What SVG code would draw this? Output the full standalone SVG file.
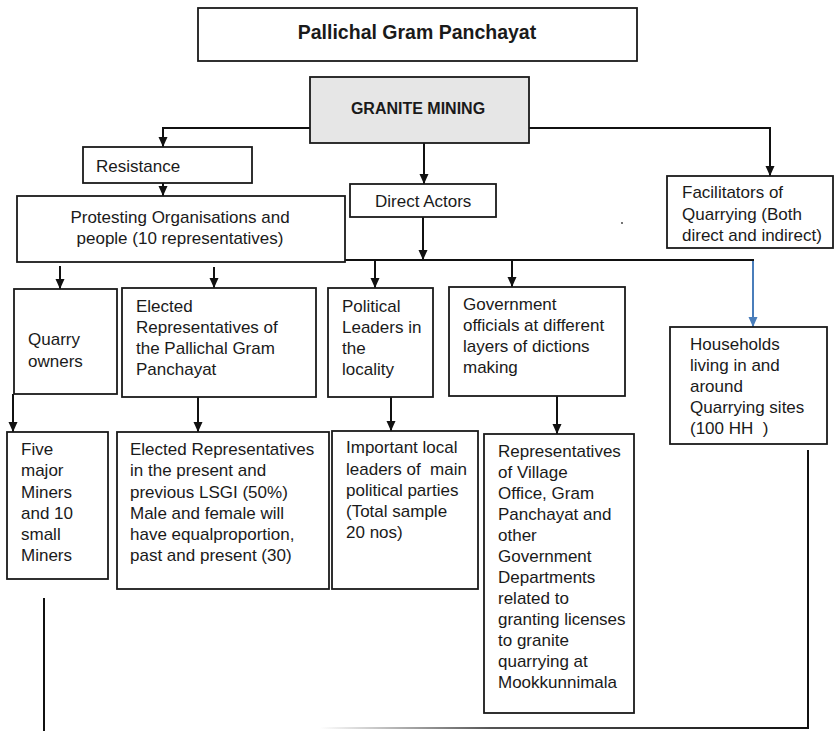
<svg xmlns="http://www.w3.org/2000/svg" width="834" height="731" viewBox="0 0 834 731">
<style>
.box{fill:#fff;stroke:#1a1a1a;stroke-width:1.8}
.grey{fill:#e6e6e6}
text{font-family:"Liberation Sans",Arial,sans-serif;font-size:17px;fill:#1a1a1a;white-space:pre}
.b{font-weight:bold}
.c{text-anchor:middle}
.con{fill:none;stroke:#111;stroke-width:2}
.blue{stroke:#4a7ebb}
</style>
<defs>
<marker id="ah" viewBox="0 0 10 10" refX="10" refY="5" markerWidth="10" markerHeight="10" markerUnits="userSpaceOnUse" orient="auto"><path d="M0,0.5 L10,5 L0,9.5 z" fill="#111"/></marker>
<marker id="ahb" viewBox="0 0 10 10" refX="10" refY="5" markerWidth="10" markerHeight="10" markerUnits="userSpaceOnUse" orient="auto"><path d="M0,0.5 L10,5 L0,9.5 z" fill="#4a7ebb"/></marker>
<linearGradient id="fade" x1="320" y1="0" x2="809" y2="0" gradientUnits="userSpaceOnUse"><stop offset="0" stop-color="#ffffff"/><stop offset="0.35" stop-color="#555"/><stop offset="1" stop-color="#111"/></linearGradient>
</defs>

<g id="connectors">
<polyline class="con" points="310,128 163,128 163,147" marker-end="url(#ah)"/>
<line class="con" x1="163" y1="183" x2="163" y2="196" marker-end="url(#ah)"/>
<line class="con" x1="424" y1="143" x2="424" y2="184" marker-end="url(#ah)"/>
<polyline class="con" points="529,128 770,128 770,176" marker-end="url(#ah)"/>
<line class="con" x1="423" y1="217" x2="423" y2="260" marker-end="url(#ah)"/>
<line class="con" x1="345" y1="260" x2="754" y2="260"/>
<line class="con blue" x1="753" y1="261" x2="753" y2="327" marker-end="url(#ahb)"/>
<line class="con" x1="60" y1="266" x2="60" y2="289" marker-end="url(#ah)"/>
<line class="con" x1="214" y1="267" x2="214" y2="288" marker-end="url(#ah)"/>
<line class="con" x1="375" y1="261" x2="375" y2="288" marker-end="url(#ah)"/>
<line class="con" x1="512" y1="261" x2="512" y2="287" marker-end="url(#ah)"/>
<line class="con" x1="13" y1="394" x2="13" y2="432" marker-end="url(#ah)"/>
<line class="con" x1="198" y1="397" x2="198" y2="432" marker-end="url(#ah)"/>
<line class="con" x1="391" y1="397" x2="391" y2="431" marker-end="url(#ah)"/>
<line class="con" x1="557" y1="396" x2="557" y2="434" marker-end="url(#ah)"/>
<line class="con" x1="44" y1="598" x2="44" y2="731"/>
<line class="con" x1="808" y1="450" x2="808" y2="729"/>
<line x1="320" y1="728" x2="809" y2="728" stroke="url(#fade)" stroke-width="2"/>
<circle cx="622" cy="223" r="0.9" fill="#333"/>
</g>

<g id="pallichal"><rect class="box" x="198" y="8" width="439" height="53"/><text class="b c" x="417" y="39" style="font-size:19.5px">Pallichal Gram Panchayat</text></g>
<g id="granite"><rect class="box grey" x="310" y="77" width="219" height="66"/><text class="b c" x="418" y="114" style="font-size:16px">GRANITE MINING</text></g>
<g id="resistance"><rect class="box" x="83" y="147" width="169" height="36"/><text x="96" y="172">Resistance</text></g>
<g id="protesting"><rect class="box" x="17" y="196" width="328" height="66"/><text class="c" x="180" y="223">Protesting Organisations and</text><text class="c" x="180" y="244">people (10 representatives)</text></g>
<g id="direct"><rect class="box" x="350" y="184" width="146" height="33"/><text x="375" y="207">Direct Actors</text></g>
<g id="facilitators"><rect class="box" x="667" y="176" width="166" height="72"/><text x="682" y="198">Facilitators of</text><text x="682" y="220">Quarrying (Both</text><text x="682" y="241">direct and indirect)</text></g>
<g id="quarry"><rect class="box" x="14" y="289" width="103" height="105"/><text x="28" y="345">Quarry</text><text x="28" y="367">owners</text></g>
<g id="elected"><rect class="box" x="122" y="288" width="194" height="109"/><text x="136" y="312">Elected</text><text x="136" y="333">Representatives of</text><text x="136" y="354">the Pallichal Gram</text><text x="136" y="375">Panchayat</text></g>
<g id="political"><rect class="box" x="328" y="288" width="105" height="109"/><text x="342" y="312">Political</text><text x="342" y="333">Leaders in</text><text x="342" y="354">the</text><text x="342" y="375">locality</text></g>
<g id="govt"><rect class="box" x="449" y="287" width="176" height="109"/><text x="463" y="310">Government</text><text x="463" y="331">officials at different</text><text x="463" y="352">layers of dictions</text><text x="463" y="373">making</text></g>
<g id="households"><rect class="box" x="670" y="327" width="157" height="117"/><text x="690" y="350">Households</text><text x="690" y="371">living in and</text><text x="690" y="392">around</text><text x="690" y="413">Quarrying sites</text><text x="690" y="434">(100 HH  )</text></g>
<g id="five"><rect class="box" x="7" y="432" width="101" height="147"/><text x="21" y="455">Five</text><text x="21" y="476">major</text><text x="21" y="498">Miners</text><text x="21" y="519">and 10</text><text x="21" y="540">small</text><text x="21" y="561">Miners</text></g>
<g id="elected-lsgi"><rect class="box" x="117" y="432" width="212" height="157"/><text x="130" y="455">Elected Representatives</text><text x="130" y="476">in the present and</text><text x="130" y="498">previous LSGI (50%)</text><text x="130" y="519">Male and female will</text><text x="130" y="540">have equalproportion,</text><text x="130" y="561">past and present (30)</text></g>
<g id="important"><rect class="box" x="332" y="431" width="146" height="158"/><text x="346" y="453">Important local</text><text x="346" y="475">leaders of  main</text><text x="346" y="496">political parties</text><text x="346" y="517">(Total sample</text><text x="346" y="538">20 nos)</text></g>
<g id="reps"><rect class="box" x="484" y="434" width="150" height="279"/><text x="498" y="457">Representatives</text><text x="498" y="478">of Village</text><text x="498" y="499">Office, Gram</text><text x="498" y="520">Panchayat and</text><text x="498" y="541">other</text><text x="498" y="562">Government</text><text x="498" y="583">Departments</text><text x="498" y="604">related to</text><text x="498" y="625">granting licenses</text><text x="498" y="646">to granite</text><text x="498" y="667">quarrying at</text><text x="498" y="688">Mookkunnimala</text></g>
</svg>
